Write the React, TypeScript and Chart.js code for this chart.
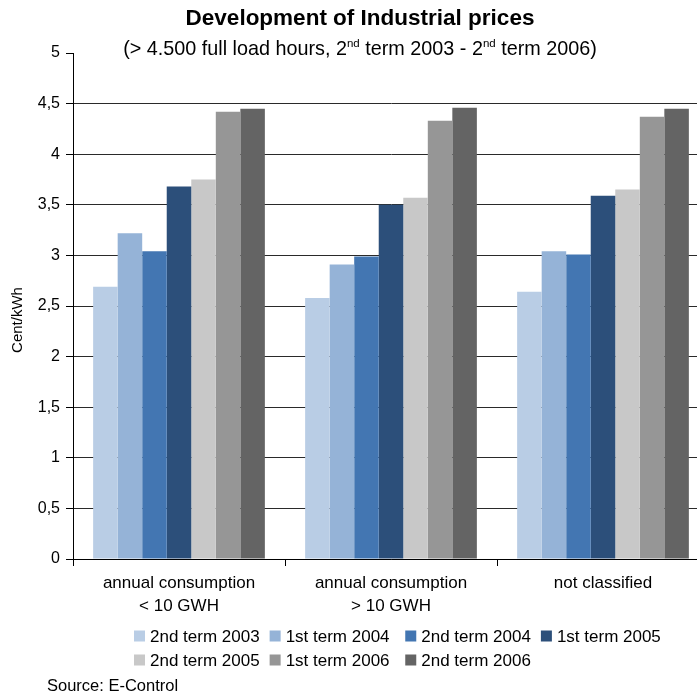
import React, { useEffect, useRef } from "react";
import { Chart, registerables } from "chart.js";

Chart.register(...registerables);

// ---- data ----
const categories: (string | string[])[] = [
  ["annual consumption", "< 10 GWH"],
  ["annual consumption", "> 10 GWH"],
  "not classified",
];
const seriesLabels = [
  "2nd term 2003",
  "1st term 2004",
  "2nd term 2004",
  "1st term 2005",
  "2nd term 2005",
  "1st term 2006",
  "2nd term 2006",
];
const seriesColors = ["#B9CDE5", "#95B3D7", "#4376B2", "#2C4F7A", "#C8C8C8", "#969696", "#646464"];
const term2003b = [2.69, 2.58, 2.64];
const term2004a = [3.22, 2.91, 3.04];
const term2004b = [3.04, 2.99, 3.01];
const term2005a = [3.68, 3.5, 3.59];
const term2005b = [3.75, 3.57, 3.65];
const term2006a = [4.42, 4.33, 4.37];
const term2006b = [4.45, 4.46, 4.45];
const seriesValues = [term2003b, term2004a, term2004b, term2005a, term2005b, term2006a, term2006b];
const yMin = 0;
const yMax = 5;
const yStep = 0.5;

const titleText = "Development of Industrial prices";
const subtitleParts = [
  { t: "(> 4.500 full load hours, 2", sup: false },
  { t: "nd", sup: true },
  { t: " term 2003 - 2", sup: false },
  { t: "nd", sup: true },
  { t: " term 2006)", sup: false },
];
const yTitle = "Cent/kWh";
const sourceText = "Source: E-Control";

const FONT = "'Liberation Sans', Arial, sans-serif";

const decorPlugin = {
  id: "decor",
  afterDraw(chart: any) {
    const ctx = chart.ctx as CanvasRenderingContext2D;
    const W = chart.width;
    const area = chart.chartArea;
    ctx.save();
    ctx.fillStyle = "#000";
    ctx.textBaseline = "middle";

    // title
    ctx.font = `bold 22.5px ${FONT}`;
    ctx.textAlign = "center";
    ctx.fillText(titleText, W / 2, 19);

    // subtitle with superscripts
    const mainFont = `19.8px ${FONT}`;
    const supFont = `11.5px ${FONT}`;
    let total = 0;
    for (const p of subtitleParts) {
      ctx.font = p.sup ? supFont : mainFont;
      total += ctx.measureText(p.t).width;
    }
    let x = W / 2 - total / 2;
    ctx.textAlign = "left";
    for (const p of subtitleParts) {
      ctx.font = p.sup ? supFont : mainFont;
      ctx.fillText(p.t, x, p.sup ? 44 : 50);
      x += ctx.measureText(p.t).width;
    }

    // y title
    ctx.save();
    ctx.font = `15px ${FONT}`;
    ctx.textAlign = "center";
    ctx.translate(18, (area.top + area.bottom) / 2 + 14);
    ctx.rotate(-Math.PI / 2);
    ctx.fillText(yTitle, 0, 0);
    ctx.restore();

    // legend (grid, 4 columns)
    ctx.font = `17px ${FONT}`;
    const box = 11;
    const gapText = 5;
    const gapItem = 10;
    let maxW = 0;
    const datasets = chart.data.datasets;
    for (const ds of datasets) maxW = Math.max(maxW, ctx.measureText(ds.label).width);
    const colW = box + gapText + maxW + gapItem;
    const startX = area.left + 61;
    const rowY = [636, 660];
    datasets.forEach((ds: any, i: number) => {
      const col = i % 4;
      const row = Math.floor(i / 4);
      const bx = startX + col * colW;
      const by = rowY[row];
      ctx.fillStyle = ds.backgroundColor;
      ctx.fillRect(bx, by - box / 2, box, box);
      ctx.fillStyle = "#000";
      ctx.textAlign = "left";
      ctx.fillText(ds.label, bx + box + gapText, by + 1);
    });

    // source
    ctx.font = `16.5px ${FONT}`;
    ctx.textAlign = "left";
    ctx.fillText(sourceText, 47, 686);
    ctx.restore();
  },
};

export default function App() {
  const ref = useRef<HTMLCanvasElement | null>(null);
  useEffect(() => {
    if (!ref.current) return;
    const chart = new Chart(ref.current, {
      type: "bar",
      data: {
        labels: categories as any,
        datasets: seriesLabels.map((label, i) => ({
          label,
          data: seriesValues[i],
          backgroundColor: seriesColors[i],
          borderWidth: 0,
          categoryPercentage: 0.81,
          barPercentage: 1,
        })),
      },
      options: {
        responsive: false,
        animation: false,
        devicePixelRatio: 1,
        layout: { padding: { top: 53, right: 11, left: 0, bottom: 78 } },
        plugins: {
          legend: { display: false },
          title: { display: false },
          tooltip: { enabled: false },
        },
        scales: {
          x: {
            offset: true,
            grid: {
              drawOnChartArea: false,
              drawTicks: true,
              tickLength: 7,
              tickColor: "#000",
              offset: true,
            },
            border: { color: "#000", width: 1 },
            ticks: {
              color: "#000",
              padding: 5,
              font: { family: FONT, size: 17, lineHeight: 1.4 },
              maxRotation: 0,
              autoSkip: false,
            },
            afterFit: (s: any) => {
              s.height = 60;
            },
          },
          y: {
            min: yMin,
            max: yMax,
            grid: {
              color: (c: any) => (c.tick && c.tick.value === yMax ? "rgba(0,0,0,0)" : "#2a2a2a"),
              tickColor: "#000",
              tickLength: 7,
              lineWidth: 1,
            },
            border: { color: "#000", width: 1 },
            ticks: {
              stepSize: yStep,
              color: "#000",
              padding: 6,
              font: { family: FONT, size: 16 },
              callback: (v: any) => String(v).replace(".", ","),
            },
            afterFit: (s: any) => {
              s.width = 73;
            },
          },
        },
      },
      plugins: [decorPlugin],
    });
    return () => chart.destroy();
  }, []);

  return (
    <div
      style={{
        position: "fixed",
        left: 0,
        top: 0,
        width: 697,
        height: 697,
        overflow: "hidden",
        background: "#fff",
      }}
    >
      <canvas ref={ref} width={720} height={697} style={{ display: "block" }} />
    </div>
  );
}
